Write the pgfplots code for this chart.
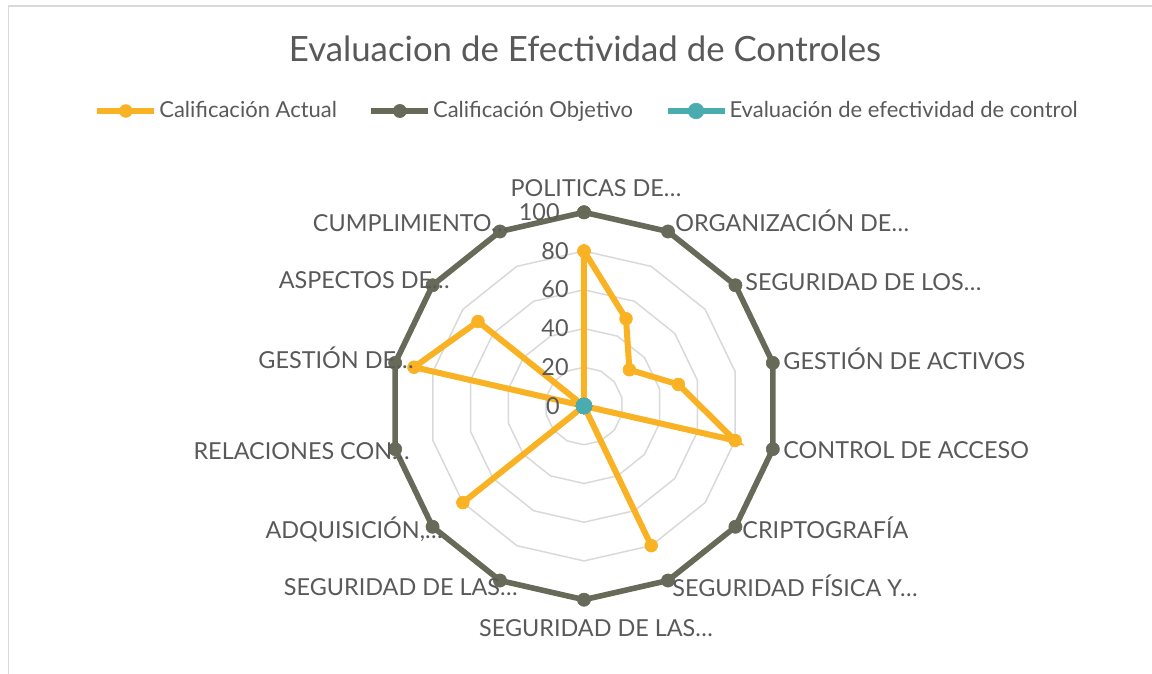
\documentclass[border=0pt]{standalone}
\usepackage{fontspec}
\setmainfont{Lato}
\usepackage{pgfplots}
\pgfplotsset{compat=1.18}
\usepackage{pgfplotstable}
\usepgfplotslibrary{polar}
\definecolor{cact}{HTML}{F9B223}
\definecolor{cobj}{HTML}{676A58}
\definecolor{cev}{HTML}{4BACB0}
\definecolor{ctxt}{HTML}{595959}
\definecolor{cgrid}{HTML}{D9D9D9}

% angle (deg, polar), actual, objective, evaluation
\pgfplotstableread{
ang act obj ev
90 80 100 0
64.286 50 100 0
38.571 30 100 0
12.857 50 100 0
347.143 80 100 0
321.429 0 100 0
295.714 80 100 0
270 0 100 0
244.286 0 100 0
218.571 80 100 0
192.857 0 100 0
167.143 90 100 0
141.429 70 100 0
115.714 0 100 0
90 80 100 0
}\data

\begin{document}
\begin{tikzpicture}[lab/.style={inner sep=0pt, font=\fontsize{11.7}{13}\selectfont, text=ctxt}]
\useasboundingbox (0pt,0pt) rectangle (576pt,-337pt);
\draw[cgrid, line width=0.9pt] (4.2pt,-337pt) -- (4.2pt,-3.2pt) -- (576pt,-3.2pt);
\begin{polaraxis}[
  at={(292pt,-203pt)}, anchor=center,
  scale only axis, width=193.7pt, height=193.7pt,
  xmin=0, xmax=360, ymin=0, ymax=100,
  hide axis, clip=false,
  legend columns=3,
  legend cell align=left,
  legend style={draw=none, fill=none, at={(axis description cs:0.508,1.2615)}, anchor=center,
    font=\fontsize{11}{12}\selectfont, text=ctxt,
    nodes={inner sep=1pt},
    /tikz/every even column/.append style={column sep=14.75pt}},
  legend image code/.code={\draw[mark repeat=2,mark phase=2,#1] plot coordinates {(0pt,0pt) (14.25pt,0pt) (28.5pt,0pt)};},
]
\pgfplotsinvokeforeach{20,40,60,80,100}{%
  \addplot[cgrid, line width=0.75pt, mark=none, forget plot] table[x=ang, y expr=#1] {\data};}
\addplot[cact, line width=3pt, mark=*, mark size=3.2pt, mark options={line width=0.3pt, fill=cact}] table[x=ang,y=act]{\data};
\addlegendentry{Calificación Actual}
\addplot[cobj, line width=2.8pt, mark=*, mark size=3.3pt, mark options={line width=0.3pt, fill=cobj}] table[x=ang,y=obj]{\data};
\addlegendentry{Calificación Objetivo}
\addplot[cev, line width=3pt, mark=*, mark size=3.9pt, mark options={line width=0.3pt, fill=cev}] table[x=ang,y=ev]{\data};
\addlegendentry{Evaluación de efectividad de control}
\end{polaraxis}
% title
\node[anchor=base, inner sep=0pt, text=ctxt, font=\fontsize{17.4}{19}\selectfont] at (292.5pt,-31pt) {Evaluacion de Efectividad de Controles};
% radial tick labels
\node[lab, anchor=base east] at (280pt,-207pt) {0};
\node[lab, anchor=base east] at (284.5pt,-187.7pt) {20};
\node[lab, anchor=base east] at (284.5pt,-168.3pt) {40};
\node[lab, anchor=base east] at (284.5pt,-148.9pt) {60};
\node[lab, anchor=base east] at (284.5pt,-129.5pt) {80};
\node[lab, anchor=base east] at (280pt,-110.2pt) {100};
% category labels
\node[lab, anchor=base] at (298pt,-98.25pt) {POLITICAS DE…};
\node[lab, anchor=base west] at (337.5pt,-116pt) {ORGANIZACIÓN DE…};
\node[lab, anchor=base west] at (372.5pt,-145pt) {SEGURIDAD DE LOS…};
\node[lab, anchor=base west] at (391.5pt,-184.5pt) {GESTIÓN DE ACTIVOS};
\node[lab, anchor=base west] at (391.5pt,-229pt) {CONTROL DE ACCESO};
\node[lab, anchor=base west] at (371pt,-269pt) {CRIPTOGRAFÍA};
\node[lab, anchor=base west] at (336pt,-298pt) {SEGURIDAD FÍSICA Y…};
\node[lab, anchor=base] at (298pt,-318pt) {SEGURIDAD DE LAS…};
\node[lab, anchor=base east] at (259pt,-297.5pt) {SEGURIDAD DE LAS…};
\node[lab, anchor=base east] at (221.5pt,-269pt) {ADQUISICIÓN,…};
\node[lab, anchor=base east] at (205pt,-229.5pt) {RELACIONES CON…};
\node[lab, anchor=base east] at (207pt,-184pt) {GESTIÓN DE…};
\node[lab, anchor=base east] at (225pt,-144pt) {ASPECTOS DE…};
\node[lab, anchor=base east] at (254.5pt,-116pt) {CUMPLIMIENTO…};
\end{tikzpicture}
\end{document}
